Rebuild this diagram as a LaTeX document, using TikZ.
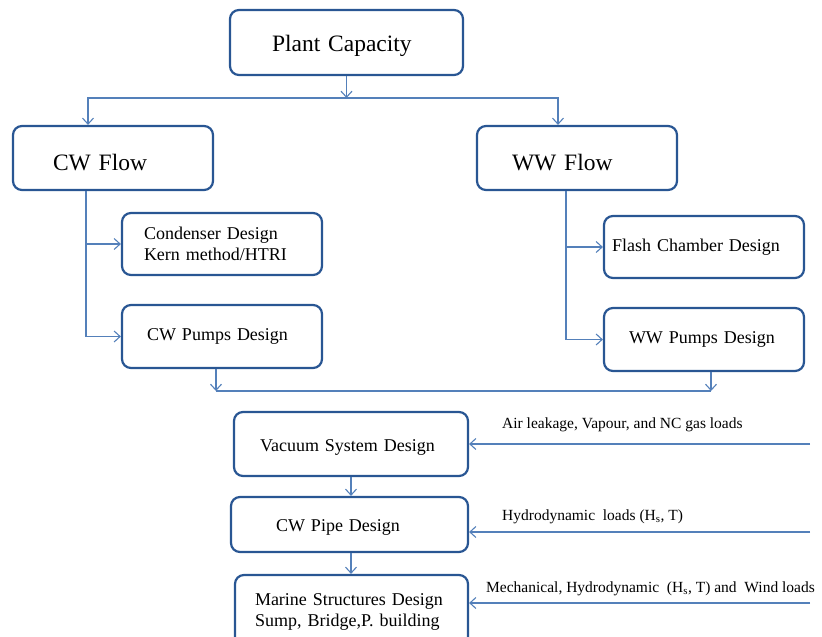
\documentclass[tikz,border=0pt]{standalone}
\usepackage{fontspec}
\setmainfont{Liberation Serif}
\usetikzlibrary{arrows.meta}
\definecolor{boxblue}{RGB}{41,86,147}
\definecolor{lineblue}{RGB}{84,128,186}

\begin{document}
\begin{tikzpicture}[x=1pt,y=-1pt,
  box/.style={draw=boxblue,line width=2.2pt,rounded corners=9pt,align=left,
    font=\fontsize{18}{21.5}\selectfont},
  big/.style={font=\fontsize{23.5}{26}\selectfont},
  low/.style={text height=18pt,text depth=4pt},
  link/.style={draw=lineblue,line width=1.1pt,-{Straight Barb[length=6pt,width=11pt]}},
  load/.style={anchor=west,inner sep=0pt,font=\fontsize{15.5}{18}\selectfont}]
  \useasboundingbox (0,0) rectangle (822,637);

  \node[box,big,text height=22pt,text depth=5pt,minimum width=233pt,minimum height=65pt,inner xsep=42pt,text width=149pt] (plant) at (346.5,42.5) {Plant Capacity};
  \node[box,big,text height=24pt,text depth=0pt,minimum width=200pt,minimum height=64pt,inner xsep=40pt,text width=120pt] (cwflow) at (113,158) {CW Flow};
  \node[box,big,text height=24pt,text depth=0pt,minimum width=200pt,minimum height=64pt,inner xsep=35pt,text width=130pt] (wwflow) at (577,158) {WW Flow};
  \node[box,minimum width=200pt,minimum height=62pt,inner xsep=22pt,text width=156pt] (cond) at (222,244) {Condenser Design\\Kern method/HTRI};
  \node[box,minimum width=200pt,minimum height=63pt,inner xsep=25pt,text width=150pt] (cwpumps) at (222,336.5) {CW Pumps Design};
  \node[box,minimum width=200pt,minimum height=62pt,inner xsep=8pt,text width=184pt] (flash) at (704,247) {Flash Chamber Design};
  \node[box,minimum width=200pt,minimum height=63pt,inner xsep=25pt,text width=150pt] (wwpumps) at (704,339.5) {WW Pumps Design};
  \node[box,low,minimum width=234pt,minimum height=64pt,inner xsep=26pt,text width=182pt] (vac) at (351,444) {Vacuum System Design};
  \node[box,low,minimum width=237pt,minimum height=55pt,inner xsep=45pt,text width=147pt] (pipe) at (349.5,524.5) {CW Pipe Design};
  \node[box,minimum width=233pt,minimum height=74pt,inner xsep=20pt,text width=193pt] (marine) at (351.5,612) {Marine Structures Design\\Sump, Bridge,P. building};

  \coordinate (topL) at (88,98);
  \coordinate (topR) at (558,98);
  \draw[link] (plant.south) -- (plant.south |- topL);
  \draw[link] (plant.south |- topL) -- (topL) -- (topL |- cwflow.north);
  \draw[link] (plant.south |- topL) -- (topR) -- (topR |- wwflow.north);

  \draw[link] ([xshift=-27pt]cwflow.south) |- (cond.west);
  \draw[link] ([xshift=-27pt]cwflow.south) |- (cwpumps.west);
  \draw[link] ([xshift=-11pt]wwflow.south) |- (flash.west);
  \draw[link] ([xshift=-11pt]wwflow.south) |- (wwpumps.west);

  \coordinate (botL) at (216,391);
  \coordinate (botR) at (711,391);
  \draw[link] (botL |- cwpumps.south) -- (botL);
  \draw[link] (botR |- wwpumps.south) -- (botR);
  \draw[link,-] (botL) -- (botR);

  \draw[link] (vac.south) -- (vac.south |- pipe.north);
  \draw[link] (vac.south |- pipe.south) -- (vac.south |- marine.north);

  \coordinate (in1) at (810,444);
  \coordinate (in2) at (810,532);
  \coordinate (in3) at (810,603);
  \draw[link] (in1) -- (in1 -| vac.east);
  \draw[link] (in2) -- (in2 -| pipe.east);
  \draw[link] (in3) -- (in3 -| marine.east);
  \node[load] (air) at (502,425) {Air leakage, Vapour, and NC gas loads};
  \node[load] (hydro) at (502,517) {Hydrodynamic\ \ loads (H\textsubscript{s}, T)};
  \node[load] (mech) at (486,589) {Mechanical, Hydrodynamic\ \ (H\textsubscript{s}, T) and\ \ Wind loads};
\end{tikzpicture}
\end{document}
